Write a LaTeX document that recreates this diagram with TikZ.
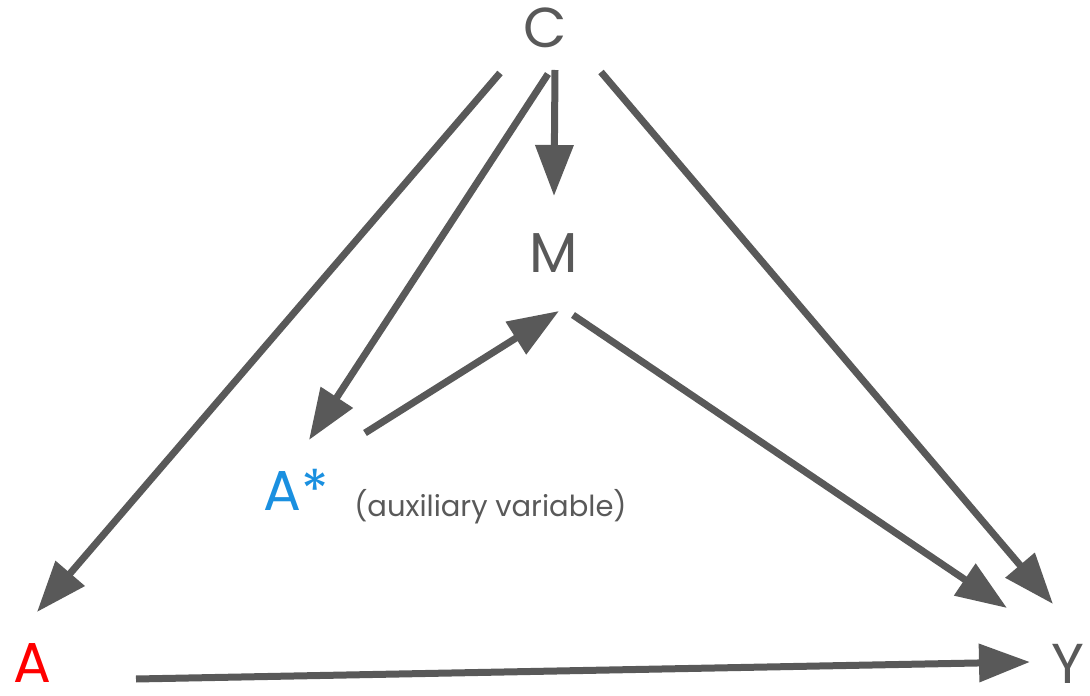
\documentclass[tikz,border=0pt]{standalone}
\usepackage{fontspec}
\setmainfont{Poppins}
\usetikzlibrary{positioning,arrows.meta}
\definecolor{edgegray}{HTML}{595959}
\definecolor{treatred}{HTML}{FF0000}
\definecolor{auxblue}{HTML}{1A90E0}

\begin{document}
\begin{tikzpicture}[
x=0.02cm,y=-0.02cm,
every node/.style={inner sep=0pt,text=edgegray,font=\fontsize{32}{36}\selectfont},
>={Triangle[length=1.02cm,width=0.74cm]},
link/.style={->,line width=0.14cm,draw=edgegray}]
\useasboundingbox (0,0) rectangle (1090,696);
\node (c) at (545,28) {C};
\node (m) at (554,253) {M};
\node (astar) at (296,490) [text=auxblue] {A*};
\node (aux) [right=0.5cm of astar,yshift=-0.34cm,font=\fontsize{16.5}{19}\selectfont] {(auxiliary variable)};
\node (a) at (32,663) [text=treatred] {A};
\node (y) at (1068,664) {Y};
\draw[link] ([shift={(-45,45)}]c.center)--([shift={(5,-51)}]a.center);
\draw[link] ([shift={(3,46)}]c.center)--([shift={(13,-50)}]astar.center);
\draw[link] ([shift={(10,42)}]c.center)--([shift={(0,-57)}]m.center);
\draw[link] ([shift={(56,44)}]c.center)--([shift={(-15,-60)}]y.center);
\draw[link] ([shift={(69,-57)}]astar.center)--([shift={(5,58)}]m.center);
\draw[link] ([shift={(19,62)}]m.center)--([shift={(-61,-56)}]y.center);
\draw[link] ([shift={(104,16)}]a.center)--([shift={(-38,-2)}]y.center);
\end{tikzpicture}
\end{document}
